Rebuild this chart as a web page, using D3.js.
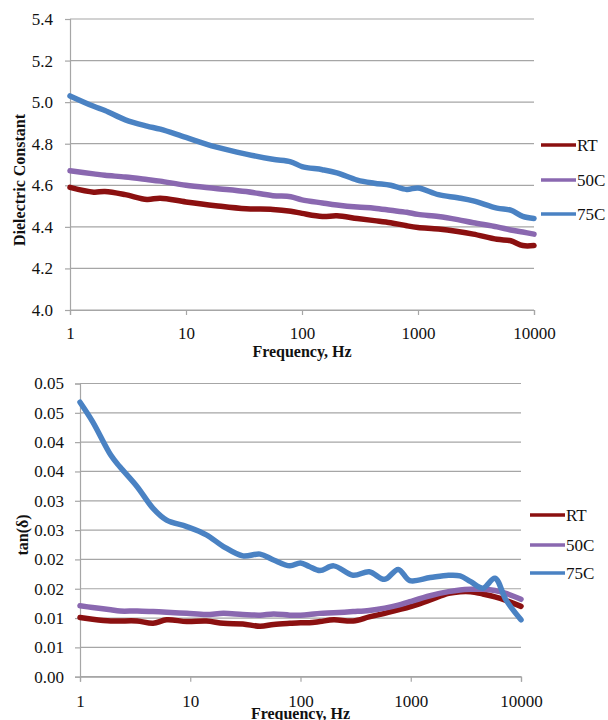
<!DOCTYPE html>
<meta charset="utf-8">
<style>
body { margin: 0; background: #fff; }
text { font-family: "Liberation Serif", serif; fill: #111; }
.grid line { stroke: #a6a6a6; stroke-width: 1.2; }
.axis path, .axis line { stroke: #a6a6a6; stroke-width: 1.2; }
.axis text { font-size: 17px; font-family: "Liberation Serif", serif; fill: #111; }
.label { font-size: 16px; font-weight: bold; }
.series { fill: none; stroke-width: 5.5; stroke-linejoin: round; stroke-linecap: round; }
.legend text { font-size: 17px; }
</style>
<svg id="chart" width="608" height="720"></svg>
<script src="https://d3js.org/d3.v7.min.js"></script>
<script>

// top chart: dielectric constant
var freqTop = [1, 1.6, 2, 3, 4.6, 6, 10, 18, 33, 56, 80, 100, 150, 200, 300, 420, 580, 800, 1000, 1500, 2200, 3000, 4800, 6300, 8000, 10000];
var rtTop   = [4.59, 4.567, 4.57, 4.555, 4.532, 4.538, 4.52, 4.502, 4.487, 4.484, 4.475, 4.465, 4.45, 4.453, 4.44, 4.43, 4.42, 4.405, 4.397, 4.39, 4.378, 4.365, 4.34, 4.333, 4.31, 4.31];
var c50Top  = [4.67, 4.655, 4.648, 4.64, 4.628, 4.62, 4.60, 4.585, 4.57, 4.55, 4.545, 4.53, 4.515, 4.505, 4.495, 4.49, 4.48, 4.47, 4.46, 4.45, 4.435, 4.42, 4.40, 4.385, 4.375, 4.365];
var c75Top  = [5.03, 4.98, 4.96, 4.915, 4.885, 4.87, 4.83, 4.785, 4.75, 4.725, 4.713, 4.69, 4.675, 4.66, 4.625, 4.61, 4.60, 4.58, 4.587, 4.555, 4.54, 4.525, 4.49, 4.48, 4.45, 4.44];
var ticksTop = [4.0, 4.2, 4.4, 4.6, 4.8, 5.0, 5.2, 5.4];

// bottom chart: tan(delta)
var freqBot = [1, 1.3, 1.9, 2.3, 3.3, 4.6, 6.1, 9.3, 14, 20, 30, 43, 57, 80, 100, 120, 150, 200, 300, 420, 580, 770, 980, 1500, 2200, 2800, 3500, 4500, 5800, 7300, 10000];
var rtBot  = [0.0101, 0.0098, 0.0095, 0.0095, 0.0095, 0.0091, 0.0097, 0.0094, 0.0095, 0.0091, 0.0090, 0.0086, 0.0089, 0.0091, 0.0092, 0.0092, 0.0094, 0.0097, 0.0095, 0.0102, 0.0108, 0.0114, 0.0119, 0.0131, 0.0142, 0.0145, 0.0145, 0.0141, 0.0136, 0.0130, 0.0120];
var c50Bot = [0.0121, 0.0118, 0.0114, 0.0112, 0.0112, 0.0111, 0.0110, 0.0108, 0.0106, 0.0108, 0.0106, 0.0105, 0.0107, 0.0105, 0.0105, 0.0106, 0.0108, 0.0109, 0.0111, 0.0113, 0.0117, 0.0122, 0.0128, 0.0138, 0.0145, 0.0148, 0.0149, 0.0149, 0.0147, 0.0142, 0.0132];
var c75Bot = [0.0468, 0.0435, 0.0378, 0.0358, 0.0324, 0.0287, 0.0267, 0.0256, 0.0242, 0.0222, 0.0206, 0.0209, 0.0199, 0.0189, 0.0194, 0.0188, 0.0181, 0.0189, 0.0173, 0.0179, 0.0166, 0.0183, 0.0164, 0.0169, 0.0173, 0.0172, 0.0162, 0.0151, 0.0168, 0.0131, 0.0097];
var ticksBot = [0, 0.005, 0.01, 0.015, 0.02, 0.025, 0.03, 0.035, 0.04, 0.045, 0.05];

var freqTicks = [1, 10, 100, 1000, 10000];
var names = ["RT", "50C", "75C"];
var colors = ["#8b1010", "#8a68b0", "#4a82c3"];

var svg = d3.select("#chart");

// round half up, like the spreadsheet does (0.045 -> 0.05)
function fmt(digits) {
  var k = Math.pow(10, digits);
  return function(d) { return (Math.round(d * k + 1e-6) / k).toFixed(digits); };
}

function drawChart(opt) {
  var x = d3.scaleLog().domain([1, 10000]).range([opt.left, opt.right]);
  var y = d3.scaleLinear().domain(opt.domain).range([opt.bottom, opt.top]);
  var g = svg.append("g");

  // horizontal gridlines
  g.append("g").attr("class", "grid")
    .selectAll("line").data(opt.yticks).enter().append("line")
      .attr("x1", opt.left).attr("x2", opt.right)
      .attr("y1", function(d) { return y(d); })
      .attr("y2", function(d) { return y(d); });

  g.append("g").attr("class", "axis")
      .attr("transform", "translate(" + opt.left + ",0)")
      .call(d3.axisLeft(y).tickValues(opt.yticks).tickFormat(fmt(opt.digits)).tickSizeOuter(0).tickSize(5).tickPadding(opt.ypad));

  g.append("g").attr("class", "axis")
      .attr("transform", "translate(0," + opt.bottom + ")")
      .call(d3.axisBottom(x).tickValues(freqTicks).tickFormat(d3.format("d")).tickSizeOuter(0).tickSize(5).tickPadding(opt.xpad));

  g.append("text").attr("class", "label")
      .attr("x", (opt.left + opt.right) / 2).attr("y", opt.xlabelY)
      .attr("text-anchor", "middle")
      .text("Frequency, Hz");

  g.append("text").attr("class", "label")
      .attr("transform", "translate(" + opt.ylabelX + "," + opt.ylabelY + ") rotate(-90)")
      .attr("text-anchor", "middle")
      .text(opt.ylabel);

  var line = d3.line()
      .x(function(d) { return x(d[0]); })
      .y(function(d) { return y(d[1]); })
      .curve(d3.curveCatmullRom.alpha(0.5));

  opt.series.forEach(function(s, i) {
    g.append("path").attr("class", "series")
      .attr("stroke", colors[i])
      .attr("d", line(d3.zip(opt.freq, s)));
  });

  var leg = g.append("g").attr("class", "legend")
    .selectAll("g").data(names).enter().append("g")
      .attr("transform", function(d, i) { return "translate(" + opt.legX + "," + opt.legY[i] + ")"; });
  leg.append("line").attr("x1", 0).attr("x2", 35).attr("y1", 0).attr("y2", 0)
      .attr("stroke", function(d, i) { return colors[i]; }).attr("stroke-width", 3.5);
  leg.append("text").attr("x", 36).attr("dy", "0.33em").text(function(d) { return d; });
}

drawChart({
  left: 70, right: 534, top: 19, bottom: 310,
  domain: [4.0, 5.4], yticks: ticksTop, digits: 1,
  freq: freqTop, series: [rtTop, c50Top, c75Top],
  ypad: 12, xpad: 12, xlabelY: 357,
  ylabel: "Dielectric Constant", ylabelX: 25, ylabelY: 180,
  legX: 541, legY: [145, 180, 214]
});

drawChart({
  left: 80, right: 521, top: 383.5, bottom: 676.7,
  domain: [0, 0.05], yticks: ticksBot, digits: 2,
  freq: freqBot, series: [rtBot, c50Bot, c75Bot],
  ypad: 11, xpad: 13, xlabelY: 719,
  ylabel: "tan(δ)", ylabelX: 28, ylabelY: 535,
  legX: 530, legY: [515, 545, 573]
});

</script>
